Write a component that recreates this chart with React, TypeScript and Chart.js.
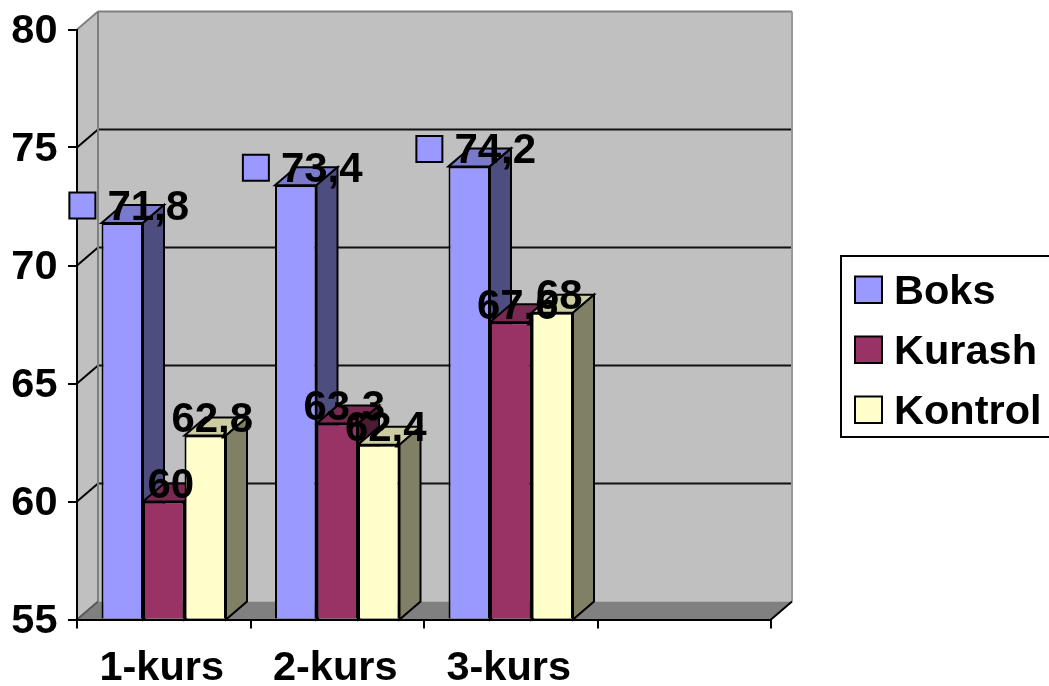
import { useEffect, useRef } from "react";
import { Chart, registerables } from "chart.js";

Chart.register(...registerables);

const categories = ["1-kurs", "2-kurs", "3-kurs", ""];
const boksValues = [71.8, 73.4, 74.2];
const kurashValues = [60, 63.3, 67.6];
const kontrolValues = [62.8, 62.4, 68];
const seriesNames = ["Boks", "Kurash", "Kontrol"];
const frontColors = ["#9999ff", "#993366", "#ffffcc"];
const topColors = ["#7a7acc", "#7a2952", "#cccca3"];
const sideColors = ["#4d4d80", "#4d1a33", "#808066"];

const FAMILY = "'Liberation Sans', Arial, sans-serif";
const AXIS_SIZE = 41.5;
const VALUE_SIZE = 42;
const DEPTH_X = 21;
const DEPTH_Y = 18;

function polygon(ctx: CanvasRenderingContext2D, pts: number[][], fill?: string, stroke?: string, lw = 2) {
  ctx.beginPath();
  pts.forEach(([x, y], i) => (i ? ctx.lineTo(x, y) : ctx.moveTo(x, y)));
  ctx.closePath();
  if (fill) {
    ctx.fillStyle = fill;
    ctx.fill();
  }
  if (stroke) {
    ctx.strokeStyle = stroke;
    ctx.lineWidth = lw;
    ctx.lineJoin = "miter";
    ctx.stroke();
  }
}

function line(ctx: CanvasRenderingContext2D, x1: number, y1: number, x2: number, y2: number, color: string, lw = 2) {
  ctx.beginPath();
  ctx.moveTo(x1, y1);
  ctx.lineTo(x2, y2);
  ctx.strokeStyle = color;
  ctx.lineWidth = lw;
  ctx.stroke();
}

// Side wall, back wall, floor and gridlines of the box behind the bars.
const boxPlugin = {
  id: "box",
  beforeDraw(chart: any) {
    const { ctx, chartArea: a, scales } = chart;
    const { left: l, right: r, top: t, bottom: b } = a;
    ctx.save();
    polygon(ctx, [[l + DEPTH_X, t - DEPTH_Y], [r + DEPTH_X, t - DEPTH_Y], [r + DEPTH_X, b - DEPTH_Y], [l + DEPTH_X, b - DEPTH_Y]], "#c0c0c0");
    polygon(ctx, [[l, t], [l + DEPTH_X, t - DEPTH_Y], [l + DEPTH_X, b - DEPTH_Y], [l, b]], "#c0c0c0");
    polygon(ctx, [[l, b], [l + DEPTH_X, b - DEPTH_Y], [r + DEPTH_X, b - DEPTH_Y], [r, b]], "#808080");
    for (const tick of scales.y.ticks) {
      if (tick.value === scales.y.min || tick.value === scales.y.max) continue;
      const y = scales.y.getPixelForValue(tick.value);
      line(ctx, l, y, l + DEPTH_X, y - DEPTH_Y, "#000");
      line(ctx, l + DEPTH_X, y - DEPTH_Y, r + DEPTH_X, y - DEPTH_Y, "#111");
    }
    line(ctx, l, t, l + DEPTH_X, t - DEPTH_Y, "#808080");
    line(ctx, l + DEPTH_X, t - DEPTH_Y, r + DEPTH_X, t - DEPTH_Y, "#808080");
    line(ctx, r + DEPTH_X, t - DEPTH_Y, r + DEPTH_X, b - DEPTH_Y, "#999");
    line(ctx, l + DEPTH_X, t - DEPTH_Y, l + DEPTH_X, b - DEPTH_Y, "#808080");
    line(ctx, l, b, l + DEPTH_X, b - DEPTH_Y, "#5a5a5a");
    line(ctx, r, b, r + DEPTH_X, b - DEPTH_Y, "#000");
    ctx.restore();
  },
  // Top and side faces of every bar; the front faces are the library's own bars.
  beforeDatasetsDraw(chart: any) {
    const { ctx, chartArea } = chart;
    ctx.save();
    const count = chart.data.labels.length;
    for (let i = 0; i < count; i++) {
      chart.data.datasets.forEach((_: any, d: number) => {
        const el = chart.getDatasetMeta(d).data[i];
        if (!el || el.skip) return;
        const { x, y, width } = el.getProps(["x", "y", "width"], true);
        const base = chartArea.bottom;
        const x0 = x - width / 2;
        const x1 = x + width / 2;
        polygon(ctx, [[x0, y], [x0 + DEPTH_X, y - DEPTH_Y], [x1 + DEPTH_X, y - DEPTH_Y], [x1, y]], topColors[d], "#000");
        polygon(ctx, [[x1, y], [x1 + DEPTH_X, y - DEPTH_Y], [x1 + DEPTH_X, base - DEPTH_Y], [x1, base]], sideColors[d], "#000");
      });
    }
    ctx.restore();
  },
  // Value labels; the first series also shows its legend key beside the number.
  afterDatasetsDraw(chart: any) {
    const { ctx } = chart;
    ctx.save();
    ctx.font = `bold ${VALUE_SIZE}px ${FAMILY}`;
    ctx.textBaseline = "alphabetic";
    ctx.textAlign = "left";
    const keySize = 26;
    const keyGap = 12;
    chart.data.datasets.forEach((ds: any, d: number) => {
      chart.getDatasetMeta(d).data.forEach((el: any, i: number) => {
        const value = ds.data[i];
        if (value == null) return;
        const text = String(value).replace(".", ",");
        const textWidth = ctx.measureText(text).width;
        const total = textWidth + (d === 0 ? keySize + keyGap : 0);
        let x = el.x + 7 - total / 2;
        const base = el.y - 3.5;
        if (d === 0) {
          const keyTop = base - 14 - keySize / 2;
          polygon(ctx, [[x, keyTop], [x + keySize, keyTop], [x + keySize, keyTop + keySize], [x, keyTop + keySize]], frontColors[0], "#000");
          x += keySize + keyGap;
        }
        ctx.fillStyle = "#000";
        ctx.fillText(text, x, base);
      });
    });
    ctx.restore();
  },
  // Boxed legend at the right, running off the canvas edge.
  afterDraw(chart: any) {
    const { ctx } = chart;
    ctx.save();
    polygon(ctx, [[841, 256], [1053, 256], [1053, 437], [841, 437]], "#fff", "#000");
    ctx.font = `bold ${AXIS_SIZE}px ${FAMILY}`;
    ctx.textBaseline = "alphabetic";
    ctx.textAlign = "left";
    chart.data.datasets.forEach((ds: any, d: number) => {
      const top = 276.5 + d * 60;
      polygon(ctx, [[855, top], [882, top], [882, top + 26.5], [855, top + 26.5]], frontColors[d], "#000");
      ctx.fillStyle = "#000";
      ctx.fillText(ds.label, 894, top + 27.5);
    });
    ctx.restore();
  },
};

export default function App() {
  const ref = useRef<HTMLCanvasElement>(null);
  useEffect(() => {
    if (!ref.current) return;
    const tickFont = { family: FAMILY, size: AXIS_SIZE, weight: "bold" as const };
    const series = [boksValues, kurashValues, kontrolValues];
    const noOverflow = (s: any) => {
      s.paddingTop = 0;
      s.paddingBottom = 0;
      s.paddingLeft = 0;
      s.paddingRight = 0;
    };
    const chart = new Chart(ref.current, {
      type: "bar",
      data: {
        labels: categories,
        datasets: series.map((data, d) => ({
          label: seriesNames[d],
          data,
          base: 55,
          backgroundColor: frontColors[d],
          borderColor: "#000",
          borderWidth: 2,
          inflateAmount: 0,
          categoryPercentage: 0.7176,
          barPercentage: 1,
        })),
      },
      options: {
        responsive: false,
        animation: false,
        layout: { padding: { left: 0, right: 278, top: 29.5, bottom: 0 } },
        plugins: { legend: { display: false }, tooltip: { enabled: false } },
        scales: {
          x: {
            afterFit: (s: any) => {
              noOverflow(s);
              s.height = 66.5;
            },
            grid: { drawOnChartArea: false, tickLength: 9, color: "#000", lineWidth: 2 },
            border: { color: "#000", width: 2 },
            ticks: { font: tickFont, color: "#000", padding: 15, labelOffset: -2, maxRotation: 0, autoSkip: false },
          },
          y: {
            min: 55,
            max: 80,
            afterFit: (s: any) => {
              noOverflow(s);
              s.width = 77;
            },
            grid: { drawOnChartArea: false, tickLength: 9, color: "#000", lineWidth: 2 },
            border: { color: "#000", width: 2 },
            ticks: { font: tickFont, color: "#000", padding: 10.5, labelOffset: 2.5, stepSize: 5 },
          },
        },
      },
      plugins: [boxPlugin],
    });
    return () => chart.destroy();
  }, []);
  return <canvas ref={ref} width={1049} height={686} style={{ position: "fixed", left: 0, top: 0, display: "block" }} />;
}
